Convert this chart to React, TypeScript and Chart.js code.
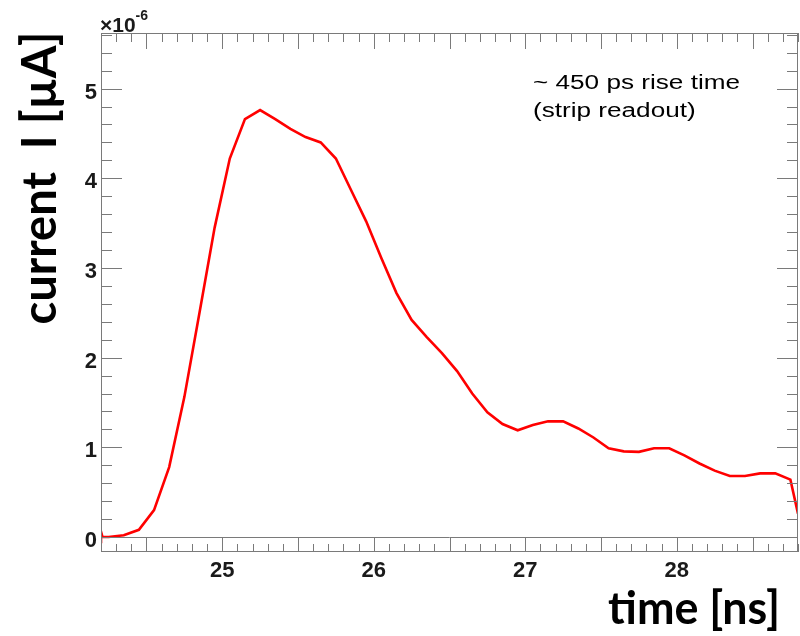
import React, { useEffect, useRef } from "react";
import { Chart, registerables } from "chart.js";

Chart.register(...registerables);

// time [ns]
const times = [
  24.2, 24.2, 24.21, 24.25, 24.35, 24.45, 24.55, 24.65, 24.75, 24.85, 24.95,
  25.05, 25.15, 25.25, 25.35, 25.45, 25.55, 25.65, 25.75, 25.85, 25.95,
  26.05, 26.15, 26.25, 26.35, 26.45, 26.55, 26.65, 26.75, 26.85, 26.95,
  27.05, 27.15, 27.25, 27.35, 27.45, 27.55, 27.65, 27.75, 27.85, 27.95,
  28.05, 28.15, 28.25, 28.35, 28.45, 28.55, 28.65, 28.75, 28.8,
];
// current [x 1e-6]
const current = [
  -0.07, 0.06, 0.0, 0.0, 0.02, 0.08, 0.3, 0.78, 1.56, 2.5, 3.45,
  4.22, 4.66, 4.76, 4.66, 4.55, 4.46, 4.4, 4.22, 3.87, 3.52,
  3.11, 2.72, 2.42, 2.23, 2.05, 1.85, 1.6, 1.39, 1.26, 1.19,
  1.25, 1.29, 1.29, 1.21, 1.11, 0.99, 0.955, 0.95, 0.99, 0.99,
  0.91, 0.82, 0.74, 0.68, 0.68, 0.71, 0.71, 0.64, 0.26,
];

const xLabelTicks = [25, 26, 27, 28];
const yLabelTicks = [0, 1, 2, 3, 4, 5];
const xRange = [24.2, 28.8];
const yRange = [-0.167, 5.62];

const xTitle = "time [ns]";
const yTitle = "current  I [µA]";
const exponentBase = "×10";
const exponentPow = "-6";
const noteLines = ["~ 450 ps rise time", "(strip readout)"];

const AXIS = "#7a7a7a";
const TEXT = "#1a1a1a";

const rootStyle = {
  id: "rootStyle",
  beforeDatasetsDraw(chart: any) {
    const { ctx, chartArea: a, scales } = chart;
    const y0 = scales.y.getPixelForValue(0);
    ctx.save();
    ctx.strokeStyle = AXIS;
    ctx.lineWidth = 1;
    ctx.beginPath();
    ctx.moveTo(a.left, Math.round(y0) + 0.5);
    ctx.lineTo(a.right, Math.round(y0) + 0.5);
    ctx.stroke();
    ctx.restore();
  },
  afterDatasetsDraw(chart: any) {
    const { ctx, chartArea: a, scales } = chart;
    const xs = scales.x;
    const ys = scales.y;
    ctx.save();
    ctx.strokeStyle = AXIS;
    ctx.lineWidth = 1;
    // frame
    ctx.strokeRect(a.left + 0.5, a.top + 0.5, a.right - a.left - 1, a.bottom - a.top - 1);
    ctx.beginPath();
    // x ticks (bottom + top)
    for (let i = 0; i <= 46; i++) {
      const v = xRange[0] + i * 0.1;
      if (v > xRange[1] + 1e-6) break;
      const px = Math.round(xs.getPixelForValue(v)) + 0.5;
      const isMajor = Math.abs(v * 2 - Math.round(v * 2)) < 1e-6;
      const lenB = isMajor ? 15 : 8;
      const lenT = isMajor ? 16 : 9;
      ctx.moveTo(px, a.bottom);
      ctx.lineTo(px, a.bottom - lenB);
      ctx.moveTo(px, a.top);
      ctx.lineTo(px, a.top + lenT);
    }
    // y ticks (left + right)
    for (let i = 0; i <= 40; i++) {
      const v = i * 0.2;
      if (v > yRange[1] - 0.02) break;
      const py = Math.round(ys.getPixelForValue(v)) + 0.5;
      const isMajor = Math.abs(v - Math.round(v)) < 1e-6;
      const len = isMajor ? 21 : 11;
      ctx.moveTo(a.left, py);
      ctx.lineTo(a.left + len, py);
      ctx.moveTo(a.right, py);
      ctx.lineTo(a.right - len, py);
    }
    ctx.stroke();

    // tick labels
    ctx.fillStyle = TEXT;
    ctx.font = "bold 22px 'Liberation Sans', Arial, sans-serif";
    ctx.textAlign = "center";
    ctx.textBaseline = "alphabetic";
    xLabelTicks.forEach((v) => {
      ctx.fillText(String(v), xs.getPixelForValue(v), a.bottom + 25);
    });
    ctx.textAlign = "right";
    yLabelTicks.forEach((v) => {
      ctx.fillText(String(v), a.left - 4, ys.getPixelForValue(v) + 10);
    });

    // exponent
    ctx.textAlign = "left";
    ctx.font = "bold 21px 'Liberation Sans', Arial, sans-serif";
    ctx.fillText(exponentBase, a.left - 1, 32);
    const w = ctx.measureText(exponentBase).width;
    ctx.font = "bold 14px 'Liberation Sans', Arial, sans-serif";
    ctx.fillText(exponentPow, a.left - 1 + w, 20);

    // note (horizontally stretched like the reference)
    ctx.fillStyle = "#000";
    ctx.font = "20px 'Liberation Sans', Arial, sans-serif";
    const nw = ctx.measureText(noteLines[0]).width;
    const sx = 207 / nw;
    ctx.save();
    ctx.translate(533, 0);
    ctx.scale(sx, 1);
    ctx.fillText(noteLines[0], 0, 89);
    ctx.fillText(noteLines[1], 0, 117);
    ctx.restore();

    // axis titles
    ctx.fillStyle = "#000";
    const titleFont = (s: number) => `bold ${s}px Lato, 'Open Sans', sans-serif`;
    ctx.font = titleFont(40);
    let tw = ctx.measureText(xTitle).width;
    let sz = 40 * (172 / tw);
    ctx.font = titleFont(sz);
    ctx.textAlign = "right";
    ctx.fillText(xTitle, 780, 624);

    ctx.font = titleFont(40);
    tw = ctx.measureText(yTitle).width;
    sz = 40 * (293 / tw);
    ctx.font = titleFont(sz);
    ctx.translate(56, 178);
    ctx.rotate(-Math.PI / 2);
    ctx.textAlign = "center";
    ctx.fillText(yTitle, 0, 0);
    ctx.restore();
  },
};

export default function App() {
  const ref = useRef<HTMLCanvasElement | null>(null);
  useEffect(() => {
    if (!ref.current) return;
    const chart = new Chart(ref.current, {
      type: "line",
      data: {
        datasets: [
          {
            data: times.map((t, i) => ({ x: t, y: current[i] })),
            borderColor: "#ff0000",
            borderWidth: 2.6,
            pointRadius: 0,
            tension: 0,
            fill: false,
          },
        ],
      },
      options: {
        responsive: false,
        animation: false,
        layout: { padding: { left: 101, top: 33, right: 2, bottom: 84 } },
        scales: {
          x: { type: "linear", min: xRange[0], max: xRange[1], display: false },
          y: { type: "linear", min: yRange[0], max: yRange[1], display: false },
        },
        plugins: { legend: { display: false }, tooltip: { enabled: false } },
      },
      plugins: [rootStyle],
    });
    return () => chart.destroy();
  }, []);
  return (
    <div style={{ position: "absolute", left: 0, top: 0, width: 800, height: 636, background: "#fff" }}>
      <canvas ref={ref} width={800} height={636} style={{ display: "block" }} />
    </div>
  );
}
